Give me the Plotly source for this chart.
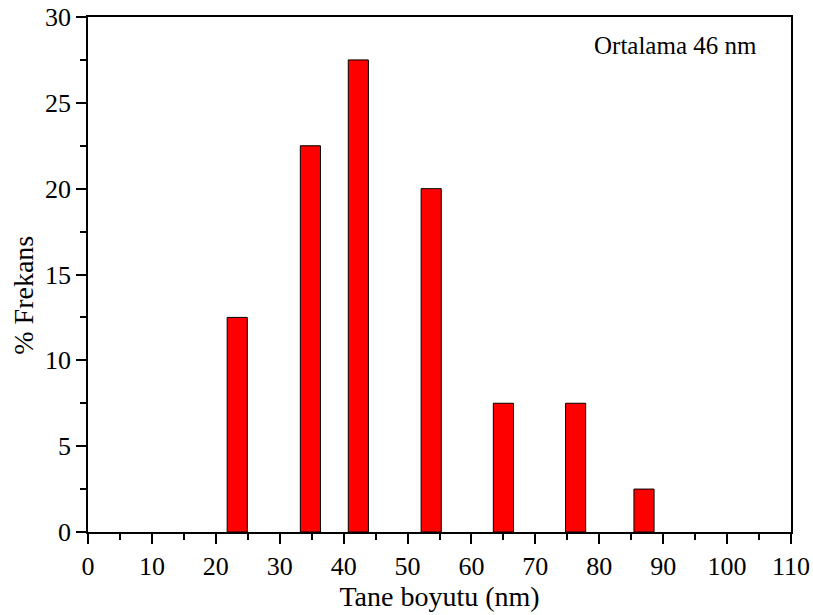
import plotly.graph_objects as go

# Particle size distribution (histogram bins)
bin_centers = [23.35, 34.8, 42.3, 53.7, 65.0, 76.3, 87.0]
frequency_pct = [12.5, 22.5, 27.5, 20.0, 7.5, 7.5, 2.5]
bar_width = 3.15

x_ticks = list(range(0, 111, 10))
y_ticks = list(range(0, 31, 5))

font_family = "Liberation Serif, Times New Roman, serif"

fig = go.Figure()
fig.add_trace(go.Bar(
    x=bin_centers,
    y=frequency_pct,
    width=bar_width,
    marker=dict(color="#ff0000", line=dict(color="black", width=1)),
))

axis_common = dict(
    showgrid=False, zeroline=False, showline=True, linecolor="black", linewidth=1.5,
    mirror=True, ticks="outside", tickcolor="black", tickwidth=1.5, ticklen=10,
    tickfont=dict(family=font_family, size=26, color="black"),
    automargin=False,
)

fig.update_xaxes(
    range=[0, 110], tickvals=x_ticks,
    minor=dict(dtick=5, ticks="outside", ticklen=6, tickcolor="black", tickwidth=1.5),
    title=dict(text="Tane boyutu (nm)", font=dict(family=font_family, size=28, color="black"), standoff=4),
    **axis_common,
)
fig.update_yaxes(
    range=[0, 30], tickvals=y_ticks,
    minor=dict(dtick=2.5, ticks="outside", ticklen=6, tickcolor="black", tickwidth=1.5),
    **axis_common,
)

# y-axis title placed slightly below the axis midpoint
fig.add_annotation(
    x=-0.093, y=0.46, xref="paper", yref="paper", xanchor="center", yanchor="middle",
    text="% Frekans", textangle=-90, showarrow=False,
    font=dict(family=font_family, size=28, color="black"),
)

fig.add_annotation(
    x=0.955, y=0.945, xref="paper", yref="paper", xanchor="right", yanchor="middle",
    text="Ortalama 46 nm", showarrow=False,
    font=dict(family=font_family, size=25, color="black"),
)

fig.update_layout(
    width=813, height=615,
    margin=dict(l=88, r=22, t=17, b=83),
    paper_bgcolor="white", plot_bgcolor="white",
    showlegend=False,
)

fig.write_html("out.html")
